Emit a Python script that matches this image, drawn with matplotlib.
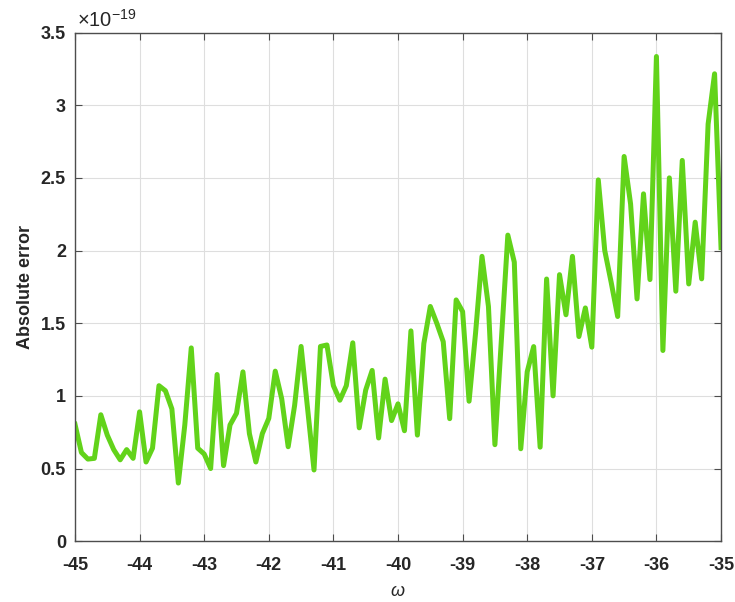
import matplotlib
matplotlib.use("Agg")
import matplotlib.pyplot as plt
import numpy as np
from matplotlib.ticker import FuncFormatter

# omega from -45 to -35, step 0.1
omega_start = -45.0
omega_step = 0.1

# absolute error, in units of 1e-19
err_mantissa = [
    0.805, 0.61, 0.565, 0.57, 0.87, 0.73, 0.63, 0.56, 0.63, 0.57,
    0.89, 0.545, 0.64, 1.07, 1.035, 0.91, 0.40, 0.80, 1.33, 0.64,
    0.60, 0.50, 1.147, 0.52, 0.80, 0.88, 1.165, 0.74, 0.545, 0.74,
    0.845, 1.17, 0.98, 0.65, 0.935, 1.34, 0.915, 0.49, 1.34, 1.35,
    1.07, 0.97, 1.07, 1.365, 0.78, 1.04, 1.175, 0.71, 1.115, 0.83,
    0.945, 0.76, 1.447, 0.73, 1.36, 1.615, 1.50, 1.373, 0.843, 1.66,
    1.58, 0.963, 1.43, 1.96, 1.615, 0.664, 1.385, 2.106, 1.92, 0.636,
    1.166, 1.339, 0.647, 1.804, 1.0, 1.834, 1.558, 1.96, 1.408, 1.605,
    1.335, 2.486, 2.0, 1.78, 1.546, 2.647, 2.32, 1.667, 2.39, 1.80,
    3.335, 1.312, 2.5, 1.72, 2.62, 1.77, 2.195, 1.805, 2.87, 3.216,
    2.02,
]
exponent = -19

x_ticks = [-45, -44, -43, -42, -41, -40, -39, -38, -37, -36, -35]
y_ticks = [0, 0.5, 1, 1.5, 2, 2.5, 3, 3.5]

omega = omega_start + omega_step * np.arange(len(err_mantissa))
err = np.array(err_mantissa)

plt.rcParams['font.family'] = ['Liberation Sans', 'DejaVu Sans']
plt.rcParams['mathtext.fontset'] = 'custom'
plt.rcParams['mathtext.rm'] = 'Liberation Sans'
plt.rcParams['mathtext.it'] = 'Liberation Sans:italic'

fig = plt.figure(figsize=(7.35, 6.02), dpi=100)
ax = fig.add_axes([0.102, 0.101, 0.879, 0.845])

ax.plot(omega, err, color='#62d31a', linewidth=3.6, solid_joinstyle='round')

ax.set_xlim(-45, -35)
ax.set_ylim(0, 3.5)
ax.set_xticks(x_ticks)
ax.set_yticks(y_ticks)
ax.yaxis.set_major_formatter(FuncFormatter(lambda v, p: f'{v:g}'))
ax.xaxis.set_major_formatter(FuncFormatter(lambda v, p: f'{v:g}'))

ax.grid(True, color='#dedede', linewidth=0.8)
ax.set_axisbelow(True)
for s in ax.spines.values():
    s.set_color('#4d4d4d')
    s.set_linewidth(1.0)
ax.tick_params(direction='in', length=5, width=0.8, color='#4d4d4d',
               top=True, right=True, labelsize=13, labelcolor='#262626')
ax.tick_params(axis='x', pad=11.5)
ax.tick_params(axis='y', pad=6.5)
for lab in ax.get_xticklabels() + ax.get_yticklabels():
    lab.set_fontweight('bold')

ax.set_ylabel('Absolute error', fontsize=13, fontweight='bold', color='#262626', labelpad=5)
ax.set_xlabel(r'$\omega$', fontsize=13, color='#262626', labelpad=6)

ax.text(0.003, 1.011, r'$\times\mathregular{10^{%d}}$' % exponent, transform=ax.transAxes,
        fontsize=14.5, color='#262626', ha='left', va='baseline')

fig.savefig('out.png', dpi=100)
